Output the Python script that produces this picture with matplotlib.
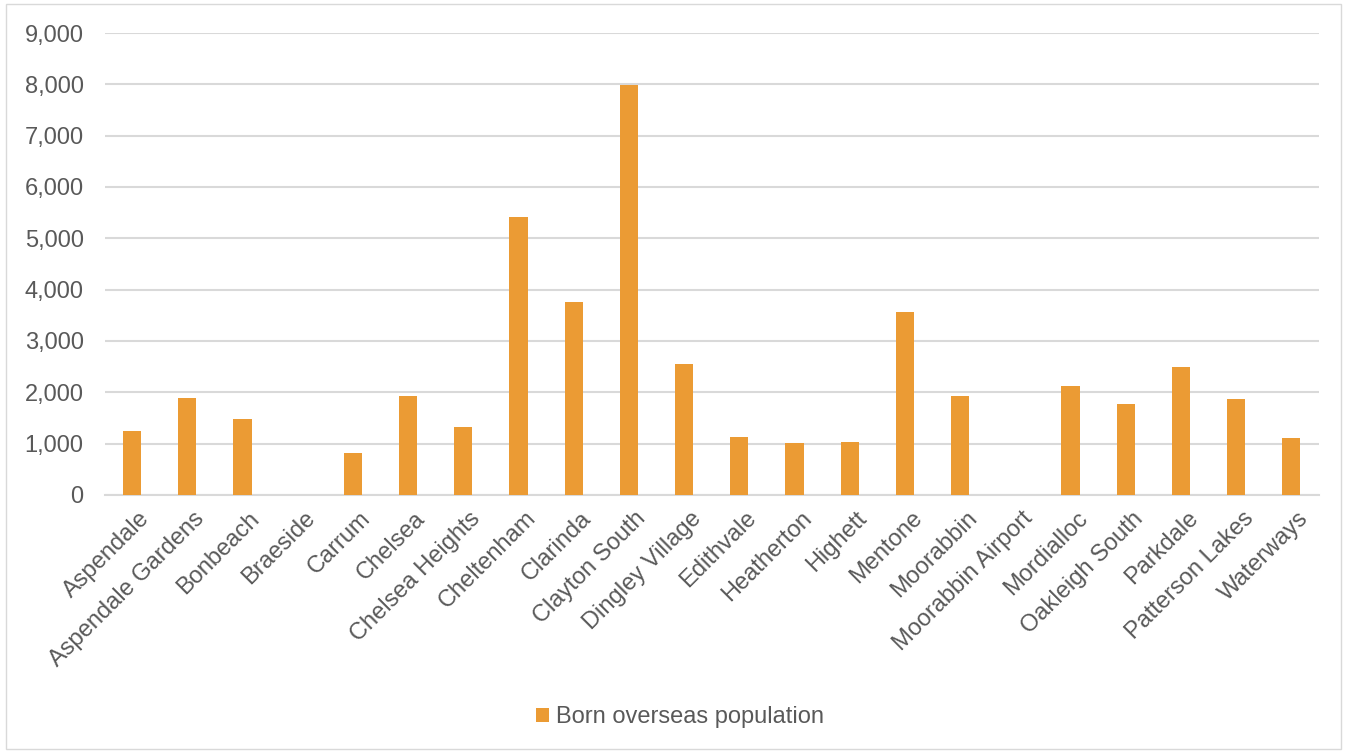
import matplotlib.pyplot as plt
import matplotlib.patches as mpatches
import matplotlib.transforms as mtransforms
from matplotlib.ticker import FuncFormatter

suburbs = ["Aspendale", "Aspendale Gardens", "Bonbeach", "Braeside", "Carrum",
           "Chelsea", "Chelsea Heights", "Cheltenham", "Clarinda", "Clayton South",
           "Dingley Village", "Edithvale", "Heatherton", "Highett", "Mentone",
           "Moorabbin", "Moorabbin Airport", "Mordialloc", "Oakleigh South",
           "Parkdale", "Patterson Lakes", "Waterways"]
born_overseas = [1250, 1880, 1485, 0, 820,
                 1925, 1315, 5420, 3750, 7990,
                 2545, 1130, 1020, 1030, 3560,
                 1935, 0, 2120, 1765,
                 2500, 1870, 1100]

bar_color = "#EB9B34"
text_color = "#595959"
grid_color = "#D9D9D9"

plt.rcParams["font.family"] = ["Liberation Sans", "DejaVu Sans"]

fig = plt.figure(figsize=(13.47, 7.51), dpi=100)
ax = fig.add_axes([0.0776, 0.341, 0.9016, 0.615])

x = range(len(suburbs))
ax.bar(x, born_overseas, width=0.33, color=bar_color, label="Born overseas population", zorder=3)

ax.set_xlim(-0.5, len(suburbs) - 0.5)
ax.set_ylim(0, 9000)
ax.set_yticks(range(0, 9001, 1000))
ax.yaxis.set_major_formatter(FuncFormatter(lambda v, p: f"{int(v):,}"))
ax.grid(axis="y", color=grid_color, linewidth=1.5, zorder=0)

for s in ["top", "right", "left"]:
    ax.spines[s].set_visible(False)
ax.spines["bottom"].set_color(grid_color)
ax.spines["bottom"].set_linewidth(1.5)

ax.set_xticks(list(x))
ax.set_xticklabels(suburbs, rotation=45, ha="right", rotation_mode="anchor")
ax.tick_params(axis="both", length=0, labelsize=17, colors=text_color)
ax.tick_params(axis="x", pad=9)
ax.tick_params(axis="y", pad=15)

# nudge the rotated labels a little to the right, like the original
shift = mtransforms.ScaledTranslation(6 / 100, 0, fig.dpi_scale_trans)
for lbl in ax.get_xticklabels():
    lbl.set_transform(lbl.get_transform() + shift)

leg = fig.legend(loc="center", bbox_to_anchor=(0.505, 0.045), frameon=False,
                 fontsize=17, handlelength=0.55, handleheight=0.55, handletextpad=0.3)
for t in leg.get_texts():
    t.set_color(text_color)

border = mpatches.Rectangle((0.0045, 0.002), 0.991, 0.993, transform=fig.transFigure,
                            fill=False, edgecolor=grid_color, linewidth=1)
fig.patches.append(border)

fig.savefig("out.png", dpi=100)
